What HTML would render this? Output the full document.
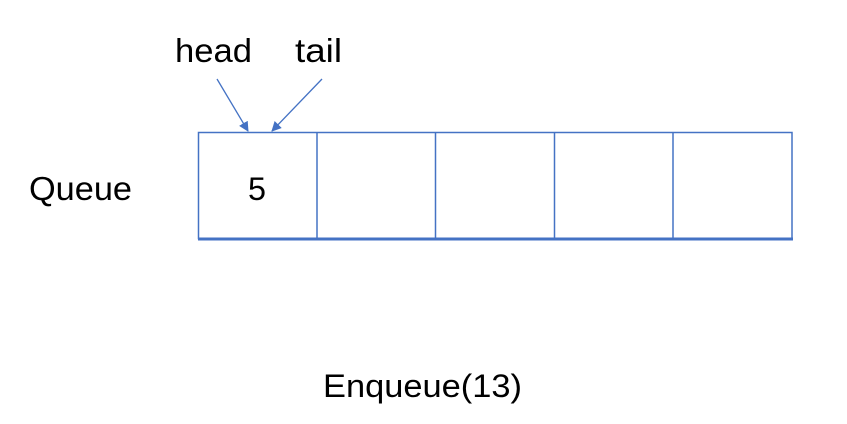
<!DOCTYPE html>
<html><head><meta charset="utf-8"><style>
html,body{margin:0;padding:0;background:#fff;width:847px;height:424px;overflow:hidden}
text{font-family:"Liberation Sans",sans-serif;fill:#000}
</style></head><body>
<svg width="847" height="424" viewBox="0 0 847 424" xmlns="http://www.w3.org/2000/svg">
<defs><marker id="a" markerWidth="10" markerHeight="10" refX="9" refY="5" orient="auto" markerUnits="userSpaceOnUse"><path d="M0,0 L10,5 L0,10 z" fill="#4472c4"/></marker></defs>
<g stroke="#4472c4" fill="none">
<rect x="198.5" y="132.5" width="593.5" height="106" stroke-width="1.5"/>
<line x1="317" y1="132" x2="317" y2="239" stroke-width="1.5"/>
<line x1="435.5" y1="132" x2="435.5" y2="239" stroke-width="1.5"/>
<line x1="554.5" y1="132" x2="554.5" y2="239" stroke-width="1.5"/>
<line x1="673" y1="132" x2="673" y2="239" stroke-width="1.5"/>
<line x1="198" y1="239" x2="793" y2="239" stroke-width="3"/>
<line x1="217" y1="79" x2="248" y2="131" stroke-width="1.3" marker-end="url(#a)"/>
<line x1="322" y1="79" x2="272" y2="131" stroke-width="1.3" marker-end="url(#a)"/>
</g>
<text x="175" y="62" font-size="33" textLength="77" lengthAdjust="spacingAndGlyphs">head</text>
<text x="295" y="62" font-size="33" textLength="47" lengthAdjust="spacingAndGlyphs">tail</text>
<text x="29" y="200" font-size="33" textLength="103" lengthAdjust="spacingAndGlyphs">Queue</text>
<text x="248" y="200" font-size="32" textLength="18" lengthAdjust="spacingAndGlyphs">5</text>
<text x="323" y="397" font-size="32" textLength="199" lengthAdjust="spacingAndGlyphs">Enqueue(13)</text>
</svg>
</body></html>
